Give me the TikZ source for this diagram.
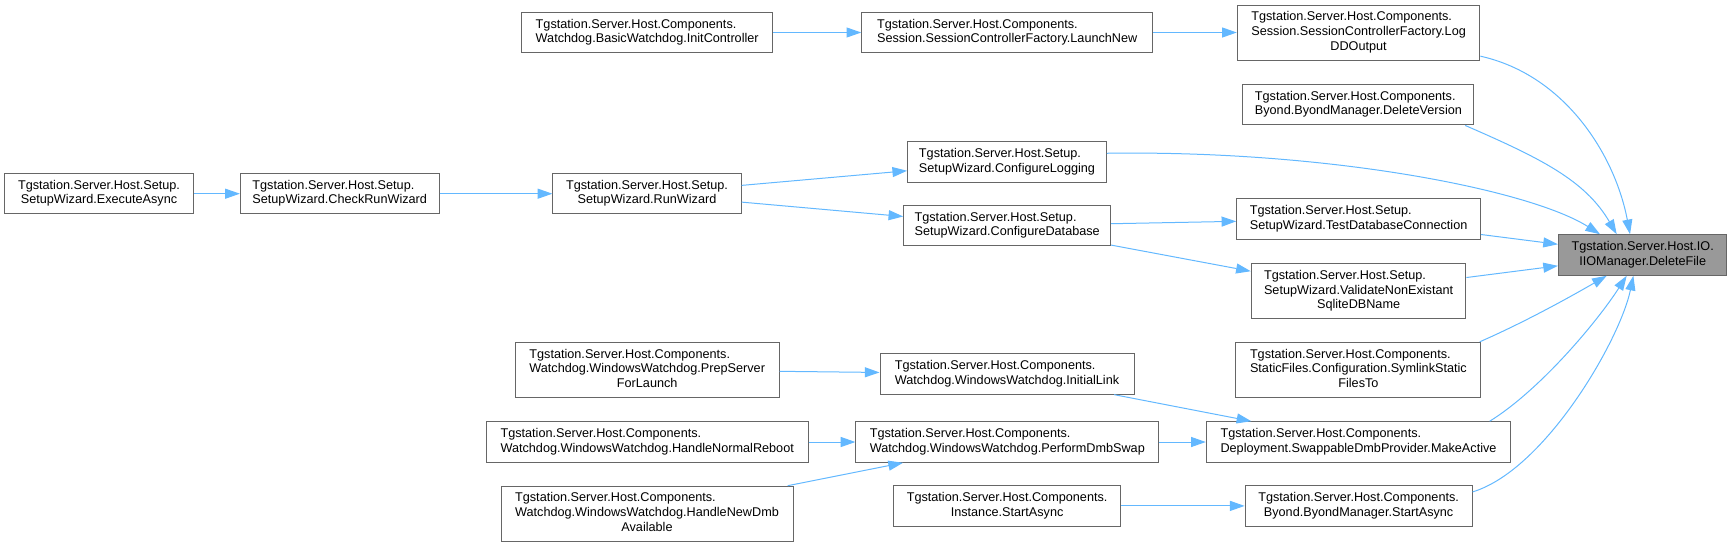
\documentclass[tikz,border=0pt]{standalone}
\usepackage{fontspec}
\setmainfont{Liberation Sans}
\usetikzlibrary{arrows.meta}
\definecolor{edgeblue}{HTML}{63B8FF}
\definecolor{boxgray}{HTML}{666666}
\definecolor{hlgray}{HTML}{999999}
\newcommand{\fnl}[2]{\begin{tabular}{@{}l@{}}#1\\\multicolumn{1}{@{}c@{}}{#2}\end{tabular}}
\newcommand{\fnll}[3]{\begin{tabular}{@{}l@{}}#1\\#2\\\multicolumn{1}{@{}c@{}}{#3}\end{tabular}}

\begin{document}
\begin{tikzpicture}[
  x=0.75pt, y=-0.75pt,
  box/.style={draw=boxgray, fill=white, line width=0.75pt, inner sep=2pt,
              minimum height=30.4pt, font=\fontsize{9.5}{11}\selectfont},
  box3/.style={box, minimum height=41.25pt},
  hl/.style={box, fill=hlgray},
  arr/.style={-{Triangle[length=11pt, width=7.5pt]}, draw=edgeblue, line width=0.75pt}
]
\useasboundingbox (0,0) rectangle (1732,547);

% setup wizard chain
\node[box, minimum width=141.5pt] (exec) at (99,193.7) {\fnl{Tgstation.Server.Host.Setup.}{SetupWizard.ExecuteAsync}};
\node[box, minimum width=149pt] (checkrun) at (339.7,193.7) {\fnl{Tgstation.Server.Host.Setup.}{SetupWizard.CheckRunWizard}};
\node[box, minimum width=141.2pt] (runwiz) at (647,193.7) {\fnl{Tgstation.Server.Host.Setup.}{SetupWizard.RunWizard}};

% third column
\node[box, minimum width=188.6pt] (initctl) at (647.2,32.5) {\fnl{Tgstation.Server.Host.Components.}{Watchdog.BasicWatchdog.InitController}};
\node[box3, minimum width=197.8pt] (prepsrv) at (647.2,369.8) {\fnll{Tgstation.Server.Host.Components.}{Watchdog.WindowsWatchdog.PrepServer}{ForLaunch}};
\node[box, minimum width=241.2pt] (normreboot) at (647.2,442) {\fnl{Tgstation.Server.Host.Components.}{Watchdog.WindowsWatchdog.HandleNormalReboot}};
\node[box3, minimum width=219pt] (newdmb) at (647,513.7) {\fnll{Tgstation.Server.Host.Components.}{Watchdog.WindowsWatchdog.HandleNewDmb}{Available}};

% fourth column
\node[box, minimum width=218.2pt] (launch) at (1007.2,32.5) {\fnl{Tgstation.Server.Host.Components.}{Session.SessionControllerFactory.LaunchNew}};
\node[box, minimum width=149.1pt] (cfglog) at (1007,162) {\fnl{Tgstation.Server.Host.Setup.}{SetupWizard.ConfigureLogging}};
\node[box, minimum width=155.2pt] (cfgdb) at (1007.2,225.7) {\fnl{Tgstation.Server.Host.Setup.}{SetupWizard.ConfigureDatabase}};
\node[box, minimum width=190.5pt] (initlink) at (1007,373.9) {\fnl{Tgstation.Server.Host.Components.}{Watchdog.WindowsWatchdog.InitialLink}};
\node[box, minimum width=227.1pt] (dmbswap) at (1007.3,442) {\fnl{Tgstation.Server.Host.Components.}{Watchdog.WindowsWatchdog.PerformDmbSwap}};
\node[box, minimum width=170pt] (inststart) at (1007.1,505.9) {\fnl{Tgstation.Server.Host.Components.}{Instance.StartAsync}};

% direct callers
\node[box3, minimum width=182pt] (logdd) at (1358.6,32.5) {\fnll{Tgstation.Server.Host.Components.}{Session.SessionControllerFactory.Log}{DDOutput}};
\node[box, minimum width=173.2pt] (delver) at (1358.4,104.7) {\fnl{Tgstation.Server.Host.Components.}{Byond.ByondManager.DeleteVersion}};
\node[box, minimum width=182.8pt] (testdb) at (1358.6,219) {\fnl{Tgstation.Server.Host.Setup.}{SetupWizard.TestDatabaseConnection}};
\node[box3, minimum width=161pt] (validate) at (1358.6,291.3) {\fnll{Tgstation.Server.Host.Setup.}{SetupWizard.ValidateNonExistant}{SqliteDBName}};
\node[box3, minimum width=183.8pt] (symlink) at (1358.4,369.8) {\fnll{Tgstation.Server.Host.Components.}{StaticFiles.Configuration.SymlinkStatic}{FilesTo}};
\node[box, minimum width=228.3pt] (makeactive) at (1358.5,442) {\fnl{Tgstation.Server.Host.Components.}{Deployment.SwappableDmbProvider.MakeActive}};
\node[box, minimum width=170.2pt] (byondstart) at (1358.6,505.9) {\fnl{Tgstation.Server.Host.Components.}{Byond.ByondManager.StartAsync}};

% the function itself
\node[hl, minimum width=126.4pt] (delfile) at (1642.7,255) {\fnl{Tgstation.Server.Host.IO.}{IIOManager.DeleteFile}};

\draw[arr] (exec) -- (checkrun);
\draw[arr] (checkrun) -- (runwiz);
\draw[arr] (runwiz) -- (cfglog);
\draw[arr] (runwiz) -- (cfgdb);
\draw[arr] (initctl) -- (launch);
\draw[arr] (launch) -- (logdd);
\draw[arr] (cfgdb) -- (testdb);
\draw[arr] (cfgdb) -- (validate);
\draw[arr] (prepsrv) -- (initlink);
\draw[arr] (initlink) -- (makeactive);
\draw[arr] (normreboot) -- (dmbswap);
\draw[arr] (newdmb) -- (dmbswap);
\draw[arr] (dmbswap) -- (makeactive);
\draw[arr] (inststart) -- (byondstart);

% into DeleteFile
\draw[arr] (logdd.-11) .. controls (1565,75) and (1615,155) .. ([xshift=-9.5pt]delfile.north);
\draw[arr] (delver.-11) .. controls (1540,158) and (1585,180) .. ([xshift=-19.5pt]delfile.north);
\draw[arr] (cfglog.5) .. controls (1330,150) and (1530,190) .. ([xshift=-32pt]delfile.north);
\draw[arr] (testdb) -- (delfile);
\draw[arr] (validate) -- (delfile);
\draw[arr] (symlink.13) .. controls (1525,322) and (1570,297) .. ([xshift=-27pt]delfile.south);
\draw[arr] (makeactive.9) .. controls (1540,390) and (1597,322) .. ([xshift=-12pt]delfile.south);
\draw[arr] (byondstart.7) .. controls (1545,470) and (1620,340) .. ([xshift=-7pt]delfile.south);
\end{tikzpicture}
\end{document}
